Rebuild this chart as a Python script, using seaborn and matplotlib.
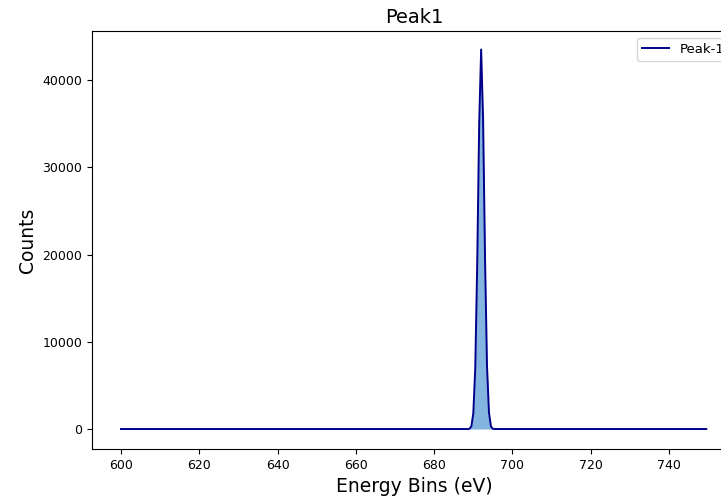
import numpy as np
import pandas as pd
import matplotlib
matplotlib.use("Agg")
import matplotlib.pyplot as plt
import seaborn as sns

# energy bins (eV) and counts
bin_start = 600.0
bin_stop = 750.0
bin_step = 0.5
peak_energy = [689.0, 689.5, 690.0, 690.5, 691.0, 691.5, 692.0, 692.5, 693.0, 693.5, 694.0, 694.5, 695.0]
peak_counts = [20, 300, 1800, 7000, 19000, 35000, 43500, 35500, 19500, 7200, 1900, 300, 20]
series_label = "Peak-1"

energy = np.arange(bin_start, bin_stop, bin_step)
counts = np.zeros_like(energy)
for e, c in zip(peak_energy, peak_counts):
    counts[np.isclose(energy, e)] = c

df = pd.DataFrame({"Energy": energy, "Counts": counts})

fig = plt.figure(figsize=(7.21, 5.01), dpi=100)
ax = fig.add_axes([92 / 721, 52 / 501, (736 - 92) / 721, (449 - 31) / 501])

sns.lineplot(data=df, x="Energy", y="Counts", color="darkblue", linewidth=1.4,
             label=series_label, ax=ax)
ax.fill_between(df["Energy"], df["Counts"], 0, color="#6fa8dc", alpha=0.85, linewidth=0)

ax.set_xlim(592.6, 757.1)
ax.set_ylim(-2290, 45620)
ax.set_xticks(np.arange(600, 741, 20))
ax.set_yticks([0, 10000, 20000, 30000, 40000])
ax.tick_params(labelsize=9)

ax.set_title("Peak1", fontsize=14)
ax.set_xlabel("Energy Bins (eV)", fontsize=13.5)
ax.set_ylabel("Counts", fontsize=13.5)
ax.legend(loc="upper right", fontsize=9.5)

fig.savefig("out.png", dpi=100)
